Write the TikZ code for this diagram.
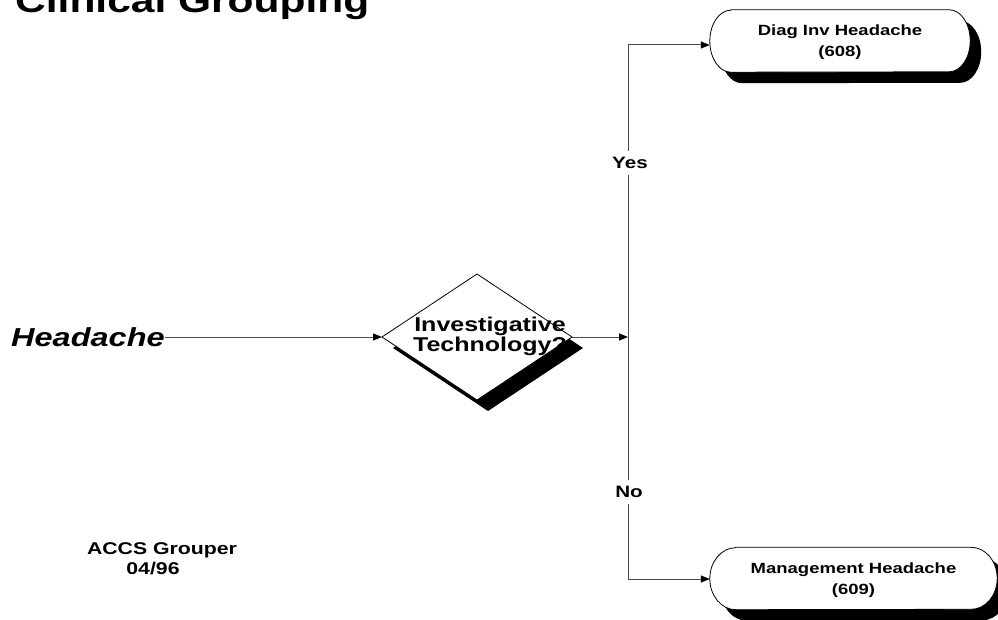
\documentclass[tikz,border=0pt]{standalone}
\usepackage{fontspec}
\setmainfont{Liberation Sans}[FakeStretch=1.25]
\usetikzlibrary{shapes.geometric,arrows.meta}
\pgfdeclarelayer{background}
\pgfsetlayers{background,main}
% #1 node name, #2 horizontal end radius, #3 half height, #4 path options
\newcommand{\termoutline}[4]{%
  \path[#4] ([xshift=#2]#1.north west) -- ([xshift=-#2]#1.north east)
    arc[start angle=90, end angle=-90, x radius=#2, y radius=#3]
    -- ([xshift=#2]#1.south west)
    arc[start angle=270, end angle=90, x radius=#2, y radius=#3] -- cycle;}
\begin{document}
\begin{tikzpicture}[x=1pt,y=-1pt,
  conn/.style={draw=black!70, line width=1pt},
  arr/.style={conn, -{Triangle[length=9pt,width=7pt,color=black]}},
  term/.style={rectangle, draw=none, minimum height=62pt, inner sep=0pt, align=center, text depth=0pt, font=\bfseries\fontsize{14.8}{21}\selectfont},
  dec/.style={diamond, draw=black, line width=0.8pt, fill=white, minimum width=190pt, minimum height=126pt, inner sep=0pt, outer sep=0pt},
  lab/.style={fill=white, inner xsep=2pt, inner ysep=6pt, font=\bfseries\fontsize{16.5}{20}\selectfont},
  plain/.style={inner sep=0pt, align=center},
  shadowfill/.style={fill=black, transform canvas={xshift=11pt, yshift=-11pt}},
  outline/.style={fill=white, draw=black, line width=0.8pt}]
\useasboundingbox (0,0) rectangle (998,620);

% title
\node[plain, anchor=base west, font=\bfseries\fontsize{34}{40}\selectfont] (title) at (15,13) {Clinical Grouping};

% start label
\node[plain, anchor=west, font=\bfseries\itshape\fontsize{26}{30}\selectfont] (head) at (11,337) {Headache};

% decision
\node[dec] (dia) at (477,337) {};
\node[plain, font=\bfseries\fontsize{20}{20}\selectfont] (dtext) at (490,336) {Investigative\\Technology?};

% terminals
\node[term, minimum width=260pt] (diag) at (840,41) {Diag Inv Headache\\(608)};
\node[term, minimum width=287pt] (mgmt) at (853.5,578.5) {Management Headache\\(609)};

% footer
\node[plain, font=\bfseries\fontsize{17}{20}\selectfont] (accs) at (162,559) {ACCS Grouper\\04/96\hspace*{18pt}};

\begin{pgfonlayer}{background}
  \fill[shadowfill] (dia.north) -- (dia.east) -- (dia.south) -- (dia.west) -- cycle;
  \termoutline{diag}{21pt}{31pt}{shadowfill}
  \termoutline{mgmt}{26pt}{31pt}{shadowfill}
  \termoutline{diag}{21pt}{31pt}{outline}
  \termoutline{mgmt}{26pt}{31pt}{outline}
\end{pgfonlayer}

% connectors
\coordinate (j) at (628,337);
\coordinate (jt) at (628,45);
\coordinate (jb) at (628,579);
\draw[arr] (head.east |- dia.west) -- (dia.west);
\draw[arr] (dia.east) -- (j);
\draw[arr] (j) -- (jt) -- (jt -| diag.west);
\draw[arr] (j) -- (jb) -- (jb -| mgmt.west);
\node[lab] (yes) at (630,163) {Yes};
\node[lab] (no) at (629,492) {No};
\end{tikzpicture}
\end{document}
